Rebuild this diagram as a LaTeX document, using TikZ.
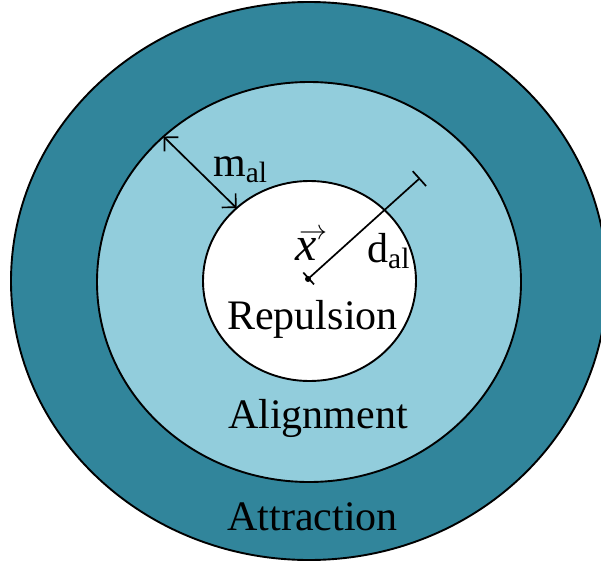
\RequirePackage{fix-cm}
\documentclass[tikz,border=0pt]{standalone}
\usepackage{fontspec}
\setmainfont{Liberation Serif}
\usetikzlibrary{shapes.geometric,arrows.meta}
\definecolor{darkteal}{RGB}{49,133,155}
\definecolor{lightteal}{RGB}{146,205,220}
\begin{document}
\begin{tikzpicture}[x=1pt,y=-1pt,
  zone/.style={ellipse, draw=black, line width=1.9pt, inner sep=0pt, outer sep=0pt},
  lbl/.style={font=\fontsize{42}{42}\selectfont, inner sep=0pt},
  dim/.style={line width=1.7pt}]
\useasboundingbox (0,0) rectangle (601,567);
\clip (0,0) rectangle (601,567);
\node[zone, fill=darkteal, minimum width=596pt, minimum height=558pt] (attr) at (309,281) {};
\node[zone, fill=lightteal, minimum width=424pt, minimum height=400pt] (align) at (309,282) {};
\node[zone, fill=white, minimum width=213pt, minimum height=200pt] (rep) at (309.5,281) {};
\node[lbl, anchor=base] (trep) at (312.5,329) {Repulsion};
\node[lbl, anchor=base] (talign) at (318,428) {Alignment};
\node[lbl, anchor=base] (tattr) at (312.5,530) {Attraction};
\node[lbl, anchor=base west] (tm) at (213,176) {m\textsubscript{al}};
\node[lbl, anchor=base west] (td) at (367,262) {d\textsubscript{al}};
\node[lbl, font=\fontsize{48}{48}\selectfont, anchor=base west] (tx) at (295,260) {\rlap{\kern4pt\raisebox{21pt}{\fontsize{28}{28}\selectfont$\rightarrow$}}\textit{x}};
\coordinate (xc) at (308,279);
\coordinate (dend) at (420,178);
\draw[dim, {Bar[width=16pt]}-{Bar[width=20pt]}] (xc) -- (dend);
\fill (xc) circle (3pt);
\draw[dim, {Straight Barb[angle=90:14pt]}-{Straight Barb[angle=90:14pt]}] (align.135) -- (rep.135);
\end{tikzpicture}
\end{document}
